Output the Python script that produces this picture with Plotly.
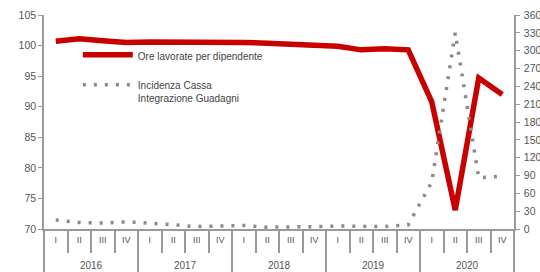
import plotly.graph_objects as go

years = ["2016"] * 4 + ["2017"] * 4 + ["2018"] * 4 + ["2019"] * 4 + ["2020"] * 4
quarters = ["I", "II", "III", "IV"] * 5
year_labels = ["2016", "2017", "2018", "2019", "2020"]

ore_lavorate = [100.7, 101.1, 100.8, 100.5, 100.6, 100.6, 100.6, 100.7,
                100.5, 100.4, 100.2, 99.9, 99.9, 99.3, 99.5, 99.3,
                90.8, 73.1, 94.7, 92.0]
incidenza_cig = [15, 11, 10, 12, 10, 7, 4, 5, 6, 3, 3, 4, 5, 5, 4, 7,
                 79, 330, 86, 89]

idx = list(range(len(quarters)))
year_pos = [sum(idx[i * 4:(i + 1) * 4]) / 4 for i in range(len(year_labels))]
year_bounds = [i * 4 - 0.5 for i in range(len(year_labels) + 1)]
xr = [-0.5, len(quarters) - 0.5]

grey = "#555555"
axis_grey = "#9a9a9a"

fig = go.Figure()
fig.add_trace(go.Scatter(
    x=idx, y=ore_lavorate, mode="lines",
    name="Ore lavorate per dipendente",
    line=dict(color="#c80000", width=5.5),
    legendgroup="a", yaxis="y"))
fig.add_trace(go.Scatter(
    x=idx, y=incidenza_cig, mode="lines",
    name="Incidenza Cassa<br>Integrazione Guadagni",
    line=dict(color="#8a8a8a", width=3.5, dash="3px,8px"),
    legendgroup="b", yaxis="y2"))

fig.update_layout(
    width=540, height=272,
    margin=dict(l=44, r=26, t=15, b=43, autoexpand=False),
    paper_bgcolor="white", plot_bgcolor="white",
    font=dict(family="Liberation Sans, Arial, sans-serif", size=10, color=grey),
    showlegend=True,
    legend=dict(x=0.072, y=0.875, xanchor="left", yanchor="top",
                bgcolor="rgba(0,0,0,0)", font=dict(size=10, color="#444"),
                itemwidth=50, tracegroupgap=11, valign="top"),
    xaxis=dict(range=xr, automargin=False, showgrid=False, zeroline=False,
               showline=True, linecolor=axis_grey, linewidth=1.5,
               tickmode="array", tickvals=year_bounds,
               ticktext=[""] * len(year_bounds),
               ticks="outside", ticklen=43, tickcolor=axis_grey, tickwidth=1.5,
               minor=dict(ticks="outside", ticklen=22, tick0=-0.5, dtick=1,
                          tickcolor=axis_grey, tickwidth=1.5, showgrid=False)),
    xaxis2=dict(range=xr, overlaying="x", anchor="y", side="bottom",
                automargin=False, showgrid=False, zeroline=False,
                showline=False, tickmode="array", tickvals=idx,
                ticktext=quarters, ticks="", ticklabelstandoff=4,
                tickfont=dict(size=9, color=grey)),
    xaxis3=dict(range=xr, overlaying="x", anchor="y", side="bottom",
                automargin=False, showgrid=False, zeroline=False,
                showline=False, tickmode="array", tickvals=year_pos,
                ticktext=year_labels, ticks="", ticklabelstandoff=29,
                tickfont=dict(size=10, color=grey)),
    yaxis=dict(range=[70, 105], dtick=5, showgrid=False, zeroline=False,
               automargin=False,
               showline=True, linecolor=axis_grey, linewidth=1.5,
               ticks="outside", ticklen=4, tickcolor=axis_grey,
               tickfont=dict(size=10.5, color=grey)),
    yaxis2=dict(range=[0, 360], dtick=30, overlaying="y", side="right",
                automargin=False,
                showgrid=False, zeroline=False, showline=True,
                linecolor=axis_grey, linewidth=1.5, ticks="outside",
                ticklen=4, tickcolor=axis_grey, ticklabelstandoff=2,
                tickfont=dict(size=10.5, color=grey)),
)
# invisible traces so the label axes are drawn
fig.add_trace(go.Scatter(x=[], y=[], xaxis="x2", showlegend=False, hoverinfo="skip"))
fig.add_trace(go.Scatter(x=[], y=[], xaxis="x3", showlegend=False, hoverinfo="skip"))

fig.write_html("out.html", config={"displayModeBar": False},
               post_script="document.body.style.margin='0';document.body.style.padding='0';")
